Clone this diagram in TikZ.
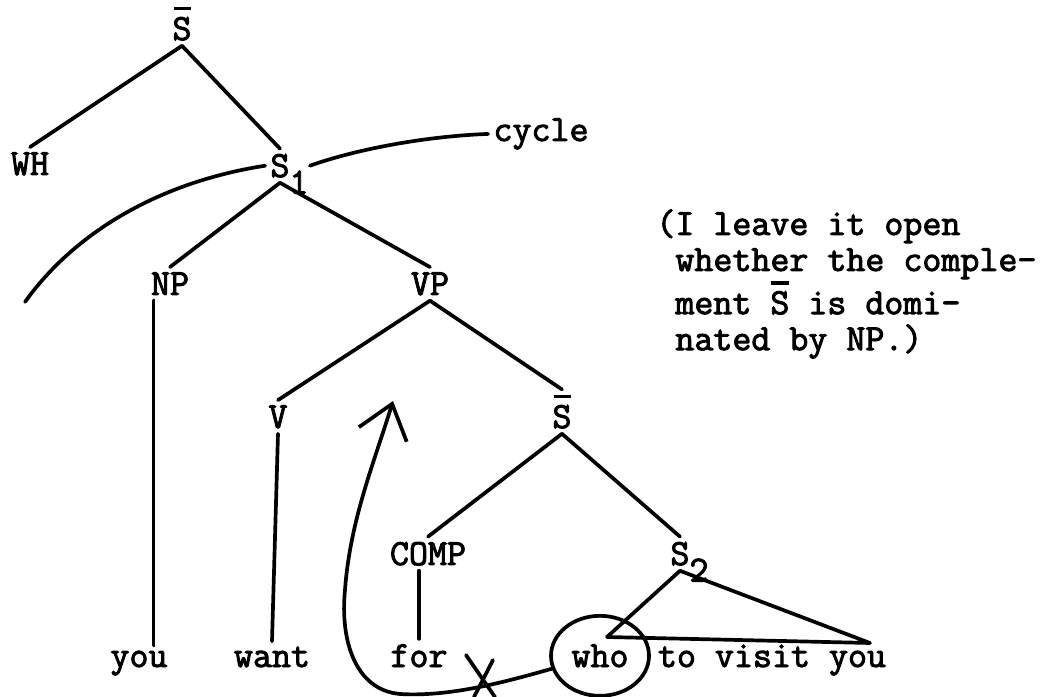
\documentclass[tikz,border=0pt]{standalone}
\usepackage{fontspec}
\newfontfamily\typer{Latin Modern Mono}[FakeBold=2.5]
\usetikzlibrary{arrows.meta,shapes.geometric}

% S with a typed bar over it
\newcommand{\ovS}{\makebox[0pt][l]{\hspace{0.03em}\rule[0.8em]{0.47em}{0.1em}}S}

\begin{document}
\begin{tikzpicture}[
  x=0.2mm, y=-0.2mm,
  cat/.style={font=\typer\fontsize{21}{20.5}\selectfont,
              inner sep=1mm, anchor=base},
  word/.style={font=\typer\fontsize{21}{20.5}\selectfont,
               inner sep=1mm, anchor=base},
  note/.style={font=\typer\fontsize{21}{20.5}\selectfont,
               inner sep=0pt, align=left, anchor=north west},
  branch/.style={line width=2.1pt, line cap=round},
  % hand-drawn movement arrow, open caret at the top
  move/.style={line width=2.1pt, line cap=round,
               -{Straight Barb[length=6.4mm, width=10mm]}},
]
\useasboundingbox (0,0) rectangle (1056,697);

% Top of the tree
\node[cat] (sbar) at (182,40) {\ovS};
\node[cat] (wh) at (30,175) {WH};
\node[cat] (s1) at (280,177) {S\rlap{\raisebox{-.45em}[0pt][0pt]{1}}};

% Row: NP, VP
\node[cat] (np) at (170,295) {NP};
\node[cat] (vp) at (430,295) {VP};

% Row: V, S-bar
\node[cat] (v) at (278,428) {V};
\node[cat] (sbar2) at (562,428) {\ovS};

% Row: COMP, S_2
\node[cat] (comp) at (428,565) {COMP};
\node[cat] (s2) at (680,565) {S\rlap{\raisebox{-.45em}[0pt][0pt]{2}}};

% Terminal string
\node[word] (you) at (139,667) {you};
\node[word] (want) at (272,667) {want};
\node[word] (for) at (419,667) {for};
\node[word, draw, ellipse, line width=2.1pt, inner sep=0pt,
      minimum width=19.6mm, minimum height=16mm] (who) at (600,667) {who};
\node[word] (rest) at (772,667) {to visit you};

% Side labels
\node[word] (cycle) at (541,141) {cycle};
\node[note] (remark) at (656,209)
  {(I leave it open\\
   ~whether the comple-\\
   ~ment \ovS\ is domi-\\
   ~nated by NP.)};

% Branches
\draw[branch] (sbar.south) -- (wh.north);
\draw[branch] (sbar.south) -- (s1.north);
\draw[branch] (s1.south) -- (np.north);
\draw[branch] (s1.south) -- (vp.north);
\draw[branch] ([xshift=1.6mm]np.south west) -- ([xshift=1.6mm]np.south west |- you.north);
\draw[branch] (vp.south) -- (v.north);
\draw[branch] (vp.south) -- (sbar2.north);
\draw[branch] (v.south) -- (want.north);
\draw[branch] (sbar2.south) -- (comp.north);
\draw[branch] (sbar2.south) -- (s2.north);
\draw[branch] (comp.south -| for.north) -- (for.north);

% Triangle over the embedded clause
\coordinate (tl) at (607,637);
\coordinate (tr) at (870,643);
\draw[branch, line join=round] (s2.south) -- (tl) -- (tr) -- cycle;

% Cycle boundaries around S_1
\coordinate (arcend) at (25,302);
\draw[branch] (s1.west) .. controls (160,182) and (75,232) .. (arcend);
\draw[branch] ([xshift=3mm]s1.east) .. controls (360,148) and (430,136) .. (cycle.west);

% Movement of who, crossing out the path past for
\coordinate (land) at (393,401);
\draw[move] (who.195) .. controls (505,682) and (450,697) .. (400,694)
  .. controls (355,690) and (340,640) .. (345,590)
  .. controls (350,520) and (375,460) .. (land);
\coordinate (cross) at (482,679);
\draw[branch] (cross) +(-16,-24) -- +(13,18);
\draw[branch] (cross) +(11,-19) -- +(-8,18);

\end{tikzpicture}
\end{document}
